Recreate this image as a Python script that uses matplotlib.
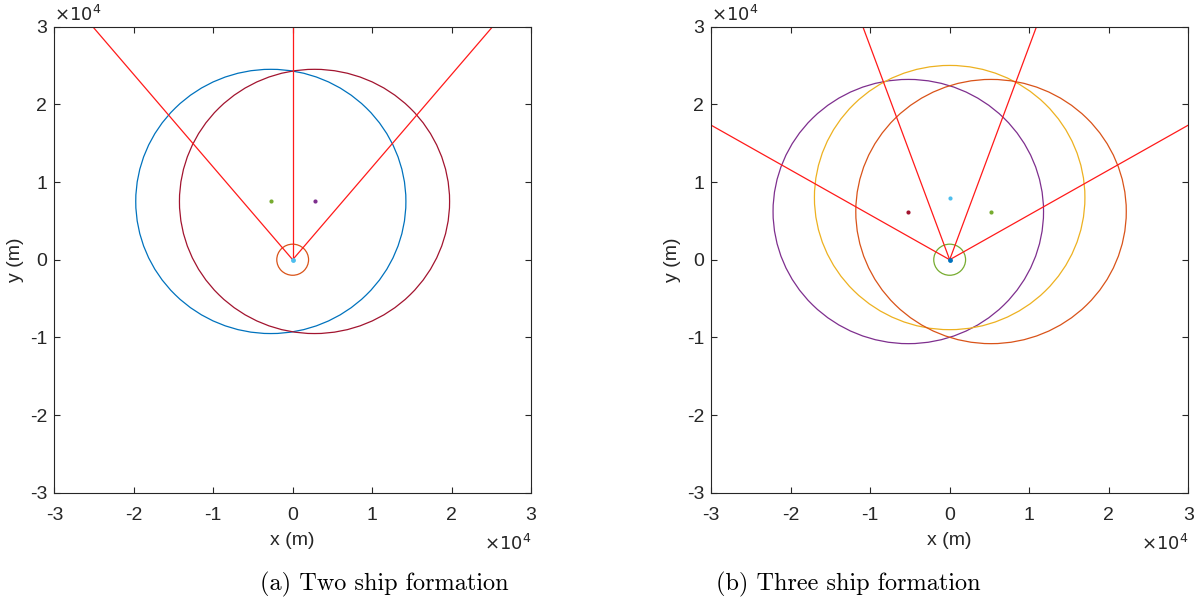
import numpy as np
import matplotlib
matplotlib.use("Agg")
import matplotlib.pyplot as plt
from matplotlib.patches import Circle

# MATLAB default colour order
BLUE = "#0072BD"
ORANGE = "#D95319"
YELLOW = "#EDB120"
PURPLE = "#7E2F8E"
GREEN = "#77AC30"
CYAN = "#4DBEEE"
DARKRED = "#A2142F"

# (a) two ship formation
two_centers_x = [-2750, 2750]
two_centers_y = [7500, 7500]
two_radius = [17000, 17000]
two_circle_colors = [BLUE, DARKRED]
two_dot_colors = [GREEN, PURPLE]
two_bearings = [-40, 0, 40]          # deg from north
two_inner_radius = 2000
two_inner_color = ORANGE
two_origin_color = CYAN

# (b) three ship formation
three_centers_x = [-5200, 0, 5200]
three_centers_y = [6200, 8000, 6200]
three_radius = [17000, 17000, 17000]
three_circle_colors = [PURPLE, YELLOW, ORANGE]
three_dot_colors = [DARKRED, CYAN, GREEN]
three_bearings = [-60, -20, 20, 60]
three_inner_radius = 2000
three_inner_color = GREEN
three_origin_color = BLUE

RAY_LEN = 60000
TICKS = [-3, -2, -1, 0, 1, 2, 3]
TXT = "#262626"
FS = 14

plt.rcParams["font.family"] = ["Liberation Sans", "DejaVu Sans"]


def draw_panel(ax, cx, cy, rad, ccols, dcols, bearings, r_in, c_in, c_origin):
    for b in bearings:
        t = np.deg2rad(b)
        ax.plot([0, RAY_LEN * np.sin(t)], [0, RAY_LEN * np.cos(t)],
                color="#FF1A1A", lw=0.9)
    for x, y, r, c in zip(cx, cy, rad, ccols):
        ax.add_patch(Circle((x, y), r, fill=False, edgecolor=c, lw=0.9))
    ax.add_patch(Circle((0, 0), r_in, fill=False, edgecolor=c_in, lw=0.9))
    for x, y, c in zip(cx, cy, dcols):
        ax.plot(x, y, "o", ms=3, color=c, mec="none")
    ax.plot(0, 0, "o", ms=3.5, color=c_origin, mec="none")

    ax.set_xlim(-30000, 30000)
    ax.set_ylim(-30000, 30000)
    ax.set_xticks([t * 1e4 for t in TICKS])
    ax.set_yticks([t * 1e4 for t in TICKS])
    ax.set_xticklabels([str(t) for t in TICKS])
    ax.set_yticklabels([str(t) for t in TICKS])
    ax.tick_params(direction="in", top=True, right=True, length=4,
                   width=0.8, colors=TXT, labelsize=FS)
    ax.tick_params(axis="x", pad=10)
    ax.tick_params(axis="y", pad=5)
    for s in ax.spines.values():
        s.set_color(TXT)
        s.set_linewidth(0.8)
    ax.set_xlabel("x (m)", fontsize=FS, color=TXT, labelpad=6)
    ax.set_ylabel("y (m)", fontsize=FS, color=TXT, labelpad=4)
    ax.text(0.0, 1.003, r"$\times10^4$", transform=ax.transAxes,
            ha="left", va="bottom", fontsize=13, color=TXT,
            math_fontfamily="dejavusans")
    ax.text(1.0, -0.088, r"$\times10^4$", transform=ax.transAxes,
            ha="right", va="top", fontsize=13, color=TXT,
            math_fontfamily="dejavusans")


fig = plt.figure(figsize=(11.99, 6.04), dpi=100)
ax1 = fig.add_axes([0.0453, 0.184, 0.3976, 0.772])
ax2 = fig.add_axes([0.5930, 0.184, 0.3981, 0.772])

draw_panel(ax1, two_centers_x, two_centers_y, two_radius, two_circle_colors,
           two_dot_colors, two_bearings, two_inner_radius, two_inner_color,
           two_origin_color)
draw_panel(ax2, three_centers_x, three_centers_y, three_radius,
           three_circle_colors, three_dot_colors, three_bearings,
           three_inner_radius, three_inner_color, three_origin_color)

fig.text(384 / 1199, 1 - 584 / 604, "(a) Two ship formation",
         family="cmr10", fontsize=17.5, ha="center", va="center")
fig.text(848 / 1199, 1 - 584 / 604, "(b) Three ship formation",
         family="cmr10", fontsize=17.5, ha="center", va="center")

fig.savefig("out.png", dpi=100)
plt.close(fig)
